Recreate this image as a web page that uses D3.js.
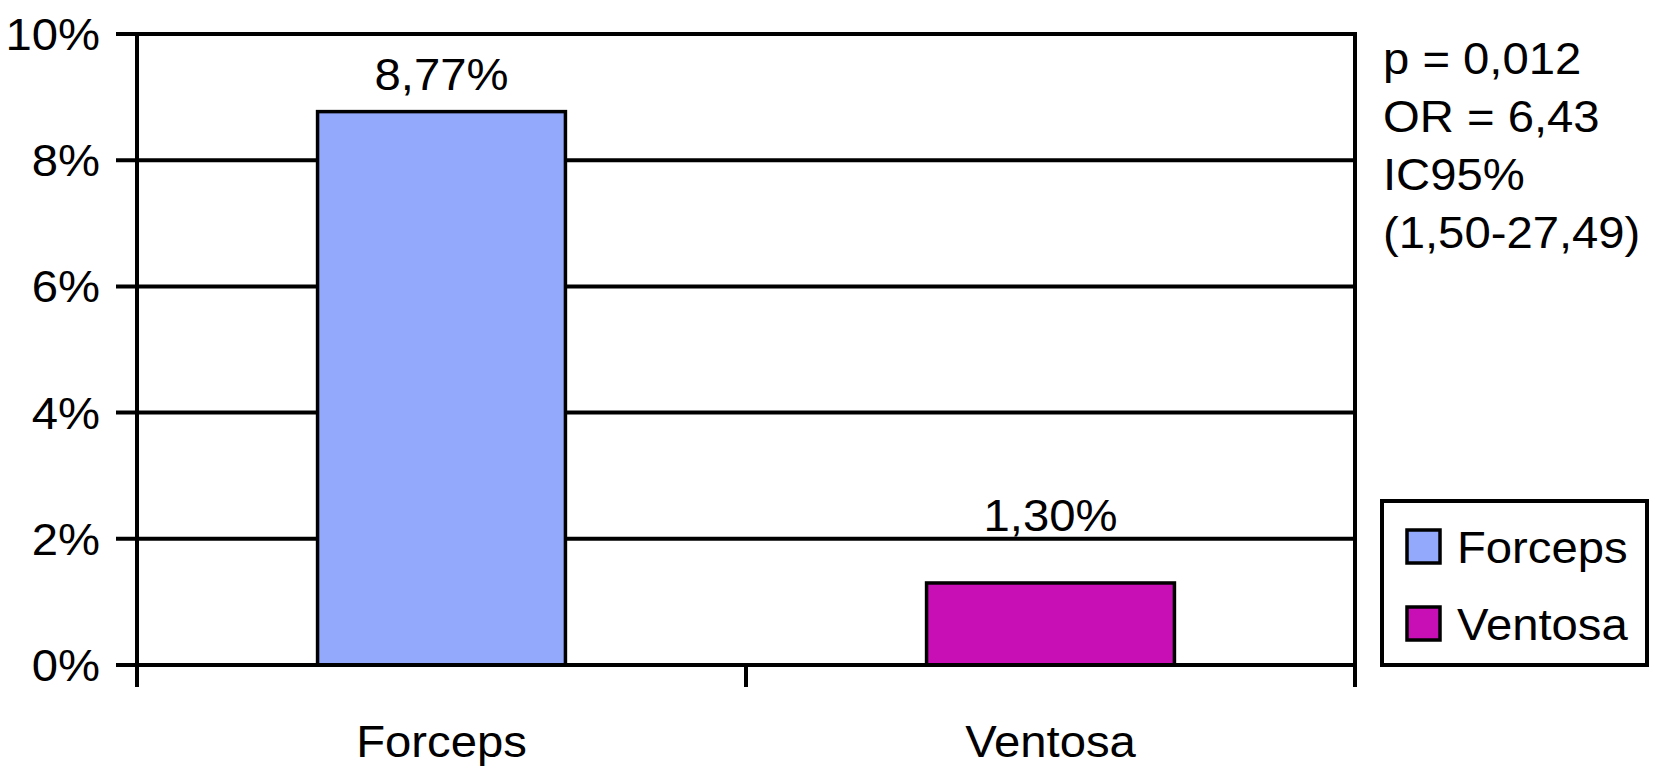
<!DOCTYPE html>
<html><head><meta charset="utf-8">
<script src="https://cdn.jsdelivr.net/npm/d3@7"></script>
<style>
body{margin:0;background:#fff}
svg{display:block;background:#fff}
text{font-family:"Liberation Sans",Arial,Helvetica,sans-serif;fill:#000}
</style>
</head><body>
<svg id="c" width="1653" height="778"></svg>
<script>
// ---- data ----
const categories = ["Forceps", "Ventosa"];
const values = [8.77, 1.30];
const valueLabels = ["8,77%", "1,30%"];
const yTicks = [0, 2, 4, 6, 8, 10];
const yTickLabels = ["0%", "2%", "4%", "6%", "8%", "10%"];
const statsLines = ["p = 0,012", "OR = 6,43", "IC95%", "(1,50-27,49)"];
const seriesColors = ["#93A9FB", "#C80FB5"];

// ---- layout ----
const plotLeft = 137, plotRight = 1355, plotTop = 34, plotBottom = 665;
const FS = 45, SX = 1.05;
const labelGap = [22, 52];

const svg = d3.select("#c");

const y = d3.scaleLinear().domain([0, 10]).range([plotBottom, plotTop]);
const x = d3.scaleBand().domain(categories).range([plotLeft, plotRight])
  .paddingInner(0.593).paddingOuter(0.2965);
const xb = d3.scaleBand().domain(categories).range([plotLeft, plotRight]).padding(0);

function txt(g, px, py, s, anchor) {
  return g.append("text")
    .attr("transform", `translate(${px},${py}) scale(${SX},1)`)
    .attr("text-anchor", anchor)
    .style("font-size", FS + "px")
    .text(s);
}

const lineW = 4;

// gridlines + y ticks
svg.append("g").selectAll("line").data(yTicks).join("line")
  .attr("x1", plotLeft - 21).attr("x2", plotRight)
  .attr("y1", d => y(d)).attr("y2", d => y(d))
  .attr("stroke", "#000").attr("stroke-width", lineW);

// y tick labels
const yl = svg.append("g");
yTicks.forEach((t, i) => txt(yl, 100, y(t) + 16, yTickLabels[i], "end"));

// bars
svg.append("g").selectAll("rect").data(categories).join("rect")
  .attr("x", d => x(d)).attr("width", x.bandwidth())
  .attr("y", (d, i) => y(values[i]))
  .attr("height", (d, i) => y(0) - y(values[i]))
  .attr("fill", (d, i) => seriesColors[i])
  .attr("stroke", "#000").attr("stroke-width", 3.5);

// baseline over bars
svg.append("line").attr("x1", plotLeft - 21).attr("x2", plotRight)
  .attr("y1", y(0)).attr("y2", y(0)).attr("stroke", "#000").attr("stroke-width", lineW);

// vertical axis lines and category ticks
const vx = [plotLeft, xb(categories[1]), plotRight];
svg.append("g").selectAll("line").data(vx).join("line")
  .attr("x1", d => d).attr("x2", d => d)
  .attr("y1", (d, i) => i === 1 ? y(0) : y(10) - 2)
  .attr("y2", y(0) + 22)
  .attr("stroke", "#000").attr("stroke-width", lineW);

// value labels
const vl = svg.append("g");
categories.forEach((c, i) => txt(vl, x(c) + x.bandwidth() / 2, y(values[i]) - labelGap[i], valueLabels[i], "middle"));

// category labels
const cl = svg.append("g");
categories.forEach(c => txt(cl, x(c) + x.bandwidth() / 2, plotBottom + 92, c, "middle"));

// stats text
const st = svg.append("g");
statsLines.forEach((s, i) => txt(st, 1383, 74 + i * 58, s, "start"));

// legend
const lg = svg.append("g");
lg.append("rect").attr("x", 1382).attr("y", 501).attr("width", 265).attr("height", 164)
  .attr("fill", "#fff").attr("stroke", "#000").attr("stroke-width", lineW);
categories.forEach((c, i) => {
  lg.append("rect").attr("x", 1407).attr("y", 530 + i * 77).attr("width", 33).attr("height", 33)
    .attr("fill", seriesColors[i]).attr("stroke", "#000").attr("stroke-width", 3.5);
  txt(lg, 1457, 563 + i * 77, c, "start");
});
</script>
</body></html>
